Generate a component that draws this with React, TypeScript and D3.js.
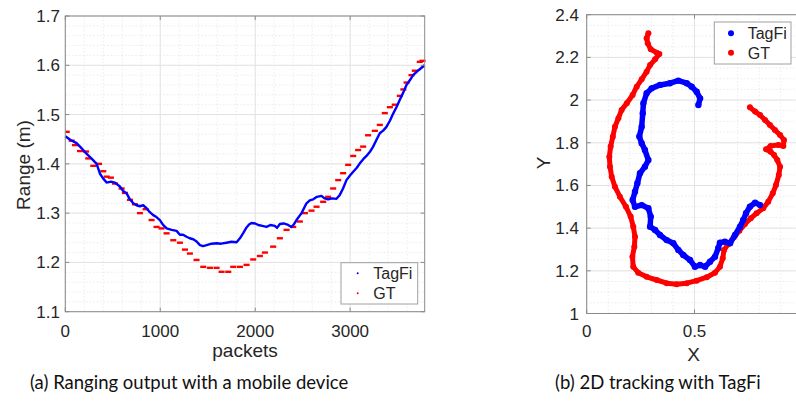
import React from "react";
import * as d3 from "d3";

// ---- (a) ranging output: packets vs. range (m) ----
const tagfiPackets = [0, 60, 119, 170, 225, 280, 330, 365, 400, 435, 480, 523, 575, 610, 646, 680, 716, 750, 786, 820, 856, 890, 926, 960, 996, 1030, 1067, 1120, 1172, 1207, 1240, 1277, 1310, 1347, 1380, 1418, 1450, 1488, 1540, 1593, 1640, 1698, 1750, 1804, 1839, 1875, 1909, 1935, 1961, 2000, 2032, 2075, 2119, 2160, 2207, 2230, 2260, 2300, 2347, 2382, 2410, 2435, 2488, 2540, 2575, 2611, 2650, 2698, 2730, 2768, 2810, 2856, 2891, 2925, 2961, 3000, 3032, 3070, 3102, 3140, 3172, 3210, 3242, 3280, 3312, 3350, 3382, 3420, 3453, 3490, 3523, 3560, 3593, 3630, 3663, 3720, 3783];
const tagfiRange = [1.456, 1.448, 1.442, 1.432, 1.42, 1.41, 1.4, 1.38, 1.37, 1.362, 1.364, 1.362, 1.354, 1.345, 1.34, 1.328, 1.32, 1.316, 1.314, 1.316, 1.31, 1.302, 1.296, 1.292, 1.286, 1.276, 1.269, 1.266, 1.264, 1.256, 1.256, 1.252, 1.249, 1.247, 1.243, 1.235, 1.233, 1.235, 1.238, 1.239, 1.238, 1.24, 1.242, 1.241, 1.249, 1.26, 1.271, 1.277, 1.28, 1.279, 1.276, 1.274, 1.272, 1.276, 1.274, 1.27, 1.278, 1.279, 1.276, 1.272, 1.278, 1.286, 1.3, 1.32, 1.326, 1.328, 1.333, 1.335, 1.33, 1.328, 1.33, 1.329, 1.337, 1.35, 1.367, 1.377, 1.384, 1.392, 1.401, 1.41, 1.416, 1.425, 1.435, 1.45, 1.462, 1.468, 1.475, 1.488, 1.502, 1.516, 1.53, 1.545, 1.56, 1.57, 1.58, 1.59, 1.6];

const gtPackets = [15, 67, 102, 155, 218, 242, 295, 355, 400, 436, 480, 523, 593, 628, 681, 733, 786, 846, 909, 961, 1014, 1067, 1137, 1207, 1260, 1312, 1382, 1453, 1523, 1593, 1646, 1716, 1769, 1839, 1909, 1979, 2049, 2102, 2189, 2260, 2330, 2400, 2470, 2523, 2593, 2646, 2716, 2768, 2821, 2874, 2926, 2979, 3032, 3084, 3137, 3189, 3260, 3312, 3365, 3418, 3470, 3523, 3560, 3594, 3646, 3681, 3733, 3762];
const gtRange = [1.465, 1.447, 1.438, 1.426, 1.425, 1.411, 1.396, 1.4, 1.385, 1.374, 1.372, 1.36, 1.35, 1.341, 1.327, 1.318, 1.3, 1.308, 1.286, 1.272, 1.269, 1.259, 1.245, 1.24, 1.226, 1.218, 1.205, 1.191, 1.189, 1.189, 1.181, 1.181, 1.191, 1.191, 1.195, 1.206, 1.213, 1.22, 1.232, 1.249, 1.266, 1.272, 1.283, 1.3, 1.305, 1.313, 1.323, 1.333, 1.35, 1.367, 1.381, 1.398, 1.416, 1.428, 1.435, 1.458, 1.467, 1.479, 1.503, 1.515, 1.52, 1.538, 1.551, 1.565, 1.58, 1.589, 1.607, 1.609];

const rangeXTicks = [0, 1000, 2000, 3000];
const rangeYTicks = [1.1, 1.2, 1.3, 1.4, 1.5, 1.6, 1.7];

// ---- (b) 2D tracking: X vs. Y ----
const trackTagfiX = [0.518, 0.526, 0.51, 0.487, 0.464, 0.425, 0.386, 0.34, 0.301, 0.278, 0.263, 0.26, 0.255, 0.244, 0.255, 0.27, 0.286, 0.27, 0.247, 0.235, 0.224, 0.213, 0.224, 0.255, 0.286, 0.297, 0.294, 0.317, 0.34, 0.371, 0.402, 0.425, 0.448, 0.479, 0.502, 0.526, 0.549, 0.572, 0.595, 0.61, 0.618, 0.641, 0.665, 0.688, 0.711, 0.726, 0.739, 0.757, 0.781, 0.804];
const trackTagfiY = [1.977, 2.008, 2.039, 2.063, 2.079, 2.091, 2.079, 2.071, 2.055, 2.032, 1.985, 1.938, 1.875, 1.829, 1.798, 1.766, 1.719, 1.688, 1.657, 1.61, 1.571, 1.532, 1.5, 1.508, 1.493, 1.454, 1.407, 1.391, 1.368, 1.344, 1.329, 1.298, 1.274, 1.251, 1.219, 1.227, 1.219, 1.243, 1.266, 1.306, 1.332, 1.336, 1.329, 1.368, 1.407, 1.438, 1.47, 1.5, 1.519, 1.508];

const trackGtX = [0.286, 0.278, 0.283, 0.297, 0.325, 0.337, 0.317, 0.294, 0.278, 0.255, 0.232, 0.213, 0.186, 0.162, 0.147, 0.131, 0.121, 0.111, 0.105, 0.108, 0.116, 0.131, 0.154, 0.182, 0.204, 0.216, 0.224, 0.221, 0.212, 0.216, 0.239, 0.278, 0.325, 0.371, 0.417, 0.464, 0.51, 0.557, 0.595, 0.618, 0.631, 0.637, 0.657, 0.683, 0.708, 0.734, 0.761, 0.788, 0.819, 0.842, 0.863, 0.878, 0.891, 0.897, 0.884, 0.869, 0.853, 0.832, 0.853, 0.889, 0.912, 0.915, 0.897, 0.873, 0.85, 0.827, 0.804, 0.781, 0.757];
const trackGtY = [2.313, 2.29, 2.266, 2.238, 2.222, 2.216, 2.191, 2.164, 2.133, 2.097, 2.063, 2.024, 1.985, 1.954, 1.915, 1.875, 1.828, 1.782, 1.735, 1.688, 1.641, 1.594, 1.547, 1.5, 1.454, 1.407, 1.36, 1.313, 1.266, 1.219, 1.191, 1.172, 1.157, 1.142, 1.137, 1.142, 1.154, 1.17, 1.191, 1.219, 1.259, 1.298, 1.326, 1.357, 1.388, 1.419, 1.446, 1.47, 1.493, 1.524, 1.563, 1.602, 1.649, 1.688, 1.719, 1.743, 1.758, 1.769, 1.785, 1.79, 1.785, 1.813, 1.836, 1.86, 1.883, 1.907, 1.93, 1.946, 1.966];

const trackXTicks = [0, 0.5];
const trackYTicks = [1, 1.2, 1.4, 1.6, 1.8, 2, 2.2, 2.4];

const seriesNames = ["TagFi", "GT"];

const BLUE = "#0000ff";
const RED = "#ff0000";
const TEXT = "#262626";
const AXIS = "#8a8a8a";
const GRID_MAJOR = "#e3e3e3";
const GRID_MINOR = "#e6e6e6";
const FONT = "'Liberation Sans', Arial, Helvetica, sans-serif";
const CAPTION_FONT = "Lato, 'Open Sans', sans-serif";

function range(start: number, stop: number, step: number) {
  const out: number[] = [];
  for (let v = start; v <= stop + step * 1e-6; v += step) out.push(+v.toFixed(6));
  return out;
}

function Grid({ x, y, xMinor, yMinor, xMajor, yMajor }: any) {
  const [x0, x1] = x.range();
  const [y0, y1] = y.range();
  return (
    <g>
      {xMinor.map((v: number) => (
        <line key={"xm" + v} x1={x(v)} x2={x(v)} y1={y0} y2={y1} stroke={GRID_MINOR} strokeWidth={0.8} strokeDasharray="1.5,2" />
      ))}
      {yMinor.map((v: number) => (
        <line key={"ym" + v} x1={x0} x2={x1} y1={y(v)} y2={y(v)} stroke={GRID_MINOR} strokeWidth={0.8} strokeDasharray="1.5,2" />
      ))}
      {xMajor.map((v: number) => (
        <line key={"xM" + v} x1={x(v)} x2={x(v)} y1={y0} y2={y1} stroke={GRID_MAJOR} strokeWidth={1} />
      ))}
      {yMajor.map((v: number) => (
        <line key={"yM" + v} x1={x0} x2={x1} y1={y(v)} y2={y(v)} stroke={GRID_MAJOR} strokeWidth={1} />
      ))}
    </g>
  );
}

function Axes({ x, y, xTicks, yTicks, xFmt, yFmt, yLabelX }: any) {
  const [x0, x1] = x.range();
  const [y0, y1] = y.range();
  const tl = 4;
  return (
    <g fontFamily={FONT} fontSize={17} fill={TEXT}>
      <rect x={x0} y={y1} width={x1 - x0} height={y0 - y1} fill="none" stroke={AXIS} strokeWidth={1} />
      {xTicks.map((v: number) => (
        <g key={"xt" + v}>
          <line x1={x(v)} x2={x(v)} y1={y0} y2={y0 - tl} stroke={AXIS} />
          <line x1={x(v)} x2={x(v)} y1={y1} y2={y1 + tl} stroke={AXIS} />
          <text x={x(v)} y={337} textAnchor="middle">{xFmt(v)}</text>
        </g>
      ))}
      {yTicks.map((v: number) => (
        <g key={"yt" + v}>
          <line x1={x0} x2={x0 + tl} y1={y(v)} y2={y(v)} stroke={AXIS} />
          <line x1={x1} x2={x1 - tl} y1={y(v)} y2={y(v)} stroke={AXIS} />
          <text x={yLabelX} y={y(v) + 6} textAnchor="end">{yFmt(v)}</text>
        </g>
      ))}
    </g>
  );
}

function RangeChart() {
  const x = d3.scaleLinear().domain([0, 3785]).range([65.3, 424.7]);
  const y = d3.scaleLinear().domain([1.1, 1.7]).range([311.7, 16]);
  const tagfi = tagfiPackets.map((p, i) => [p, tagfiRange[i]] as [number, number]);
  const line = d3.line<[number, number]>().x((d) => x(d[0])).y((d) => y(d[1])).curve(d3.curveLinear);
  const dashHalf = 32;
  return (
    <g>
      <rect x={65.3} y={16} width={359.4} height={295.7} fill="#fff" />
      <Grid x={x} y={y} xMinor={range(0, 3700, 200)} yMinor={range(1.1, 1.7, 0.02)} xMajor={rangeXTicks} yMajor={rangeYTicks} />
      {gtPackets.map((p, i) => (
        <line key={"gt" + i} x1={x(Math.max(0, p - dashHalf))} x2={x(p + dashHalf)} y1={y(gtRange[i])} y2={y(gtRange[i])} stroke={RED} strokeWidth={2.4} />
      ))}
      <path d={line(tagfi) || ""} fill="none" stroke={BLUE} strokeWidth={2.4} strokeLinejoin="round" />
      <Axes x={x} y={y} xTicks={rangeXTicks} yTicks={rangeYTicks} xFmt={(v: number) => String(v)} yFmt={(v: number) => v.toFixed(1)} yLabelX={60} />
      <text x={245} y={357} textAnchor="middle" fontFamily={FONT} fontSize={19} fill={TEXT}>packets</text>
      <text transform="translate(30,165) rotate(-90)" textAnchor="middle" fontFamily={FONT} fontSize={19} fill={TEXT}>Range (m)</text>
      {/* legend */}
      <g fontFamily={FONT} fontSize={16} fill={TEXT}>
        <rect x={341} y={262.7} width={76.7} height={41.3} fill="#fff" stroke="#a0a0a0" strokeWidth={1} />
        <circle cx={357.7} cy={273.3} r={1} fill={BLUE} />
        <circle cx={357.7} cy={293.3} r={1} fill={RED} />
        <text x={373.3} y={279}>{seriesNames[0]}</text>
        <text x={373.3} y={299}>{seriesNames[1]}</text>
      </g>
    </g>
  );
}

function TrackChart() {
  const x = d3.scaleLinear().domain([0, 1]).range([586.7, 802.3]);
  const y = d3.scaleLinear().domain([1, 2.4]).range([313.5, 14.7]);
  const line = d3.line<[number, number]>().x((d) => x(d[0])).y((d) => y(d[1]));
  const tag = trackTagfiX.map((v, i) => [v, trackTagfiY[i]] as [number, number]);
  const gt = trackGtX.map((v, i) => [v, trackGtY[i]] as [number, number]);
  return (
    <g>
      <rect x={586.7} y={14.7} width={215.6} height={298.8} fill="#fff" />
      <Grid x={x} y={y} xMinor={range(0, 1, 0.1)} yMinor={range(1, 2.4, 0.05)} xMajor={[0, 0.5, 1]} yMajor={trackYTicks} />
      <path d={line(gt) || ""} fill="none" stroke={RED} strokeWidth={5} strokeLinecap="round" strokeLinejoin="round" />
      {gt.map((d, i) => (
        <circle key={"g" + i} cx={x(d[0])} cy={y(d[1])} r={3} fill={RED} />
      ))}
      <path d={line(tag) || ""} fill="none" stroke={BLUE} strokeWidth={5.5} strokeLinecap="round" strokeLinejoin="round" />
      {tag.map((d, i) => (
        <circle key={"t" + i} cx={x(d[0])} cy={y(d[1])} r={3.2} fill={BLUE} />
      ))}
      <Axes x={x} y={y} xTicks={trackXTicks} yTicks={trackYTicks} xFmt={(v: number) => String(v)} yFmt={(v: number) => String(v)} yLabelX={579} />
      <text x={693.5} y={361} textAnchor="middle" fontFamily={FONT} fontSize={19} fill={TEXT}>X</text>
      <text transform="translate(550,163) rotate(-90)" textAnchor="middle" fontFamily={FONT} fontSize={19} fill={TEXT}>Y</text>
      <g fontFamily={FONT} fontSize={16} fill={TEXT}>
        <rect x={714.3} y={22} width={76.7} height={42} fill="#fff" stroke="#a0a0a0" strokeWidth={1} />
        <circle cx={731} cy={33.3} r={3} fill={BLUE} />
        <circle cx={731} cy={52.7} r={3} fill={RED} />
        <text x={747.7} y={39}>{seriesNames[0]}</text>
        <text x={747.7} y={58.5}>{seriesNames[1]}</text>
      </g>
    </g>
  );
}

export default function App() {
  return (
    <svg width={796} height={410} viewBox="0 0 796 410" style={{ position: "absolute", left: 0, top: 0, display: "block", background: "#fff" }}>
      <rect width={796} height={410} fill="#fff" />
      <RangeChart />
      <TrackChart />
      <g fontFamily={CAPTION_FONT} fontSize={18.5} fill="#111">
        <text x={30} y={389}>(a) Ranging output with a mobile device</text>
        <text x={555} y={389}>(b) 2D tracking with TagFi</text>
      </g>
    </svg>
  );
}
